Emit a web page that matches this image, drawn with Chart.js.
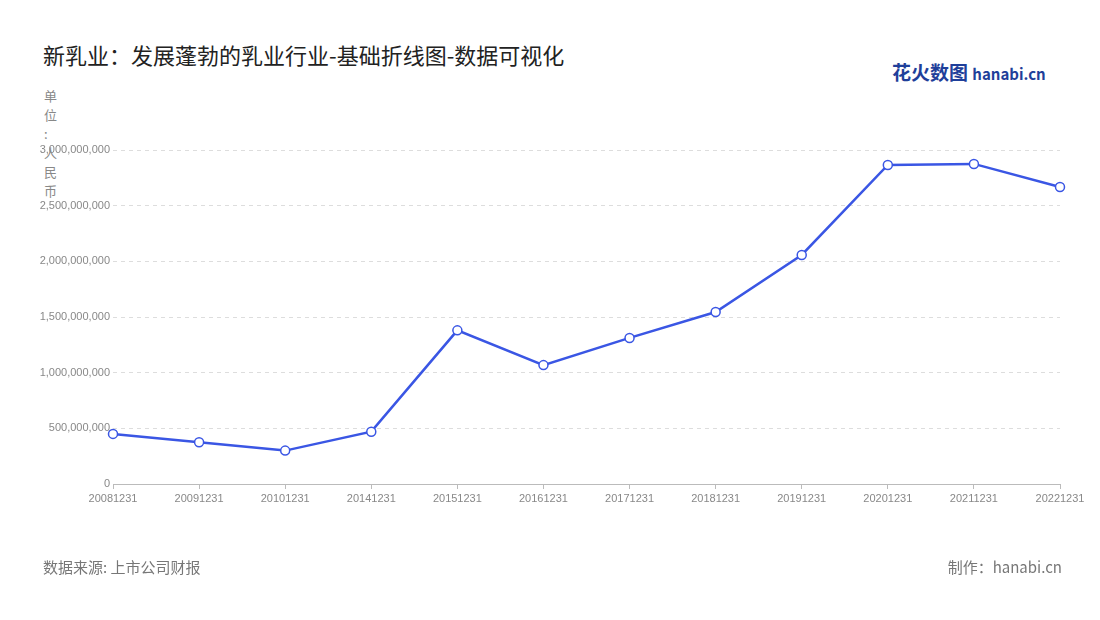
<!DOCTYPE html>
<html><head><meta charset="utf-8">
<script src="https://cdn.jsdelivr.net/npm/chart.js@4"></script>
<style>
body{margin:0;width:1100px;height:620px;position:relative;font-family:"Noto Sans CJK SC","Noto Sans",sans-serif;background:#fff;overflow:hidden}
#c{position:absolute;left:0;top:0}
.t{position:absolute;left:43px;top:38px;font-size:22px;color:#222}
.u{position:absolute;left:44px;top:86px;font-size:13px;line-height:19px;color:#888}
.logo{position:absolute;left:892px;top:58px;font-size:19px;font-weight:bold;color:#1f3f9a}
.logo span{font-size:15px;color:#1f3f9a}
.src{position:absolute;left:43px;top:556px;font-size:15px;color:#777}
.by{position:absolute;right:38px;top:556px;font-size:15px;color:#777}
</style></head><body>
<div class="t">新乳业：发展蓬勃的乳业行业-基础折线图-数据可视化</div>
<div class="u">单<br>位<br>:<br>人<br>民<br>币</div>
<div class="logo">花火数图 <span>hanabi.cn</span></div>
<canvas id="c" width="1100" height="620"></canvas>
<div class="src">数据来源: 上市公司财报</div>
<div class="by">制作：hanabi.cn</div>
<script>
const years = ["20081231","20091231","20101231","20141231","20151231","20161231","20171231","20181231","20191231","20201231","20211231","20221231"];
const revenue = [450000000,375000000,300000000,470000000,1380000000,1068000000,1312000000,1545000000,2057000000,2866000000,2875000000,2668000000];

new Chart(document.getElementById('c'), {
    type: 'line',
    data: {
        labels: years,
        datasets: [{
            data: revenue,
            borderColor: '#3a56e4',
            borderWidth: 2.5,
            pointBackgroundColor: '#fff',
            pointBorderColor: '#3a56e4',
            pointBorderWidth: 1.5,
            pointRadius: 4.5,
            tension: 0
        }]
    },
    options: {
        responsive: false,
        animation: false,
        layout: { padding: { top: 150, bottom: 106, right: 40 } },
        plugins: { legend: { display: false }, tooltip: { enabled: false } },
        scales: {
            x: {
                offset: false,
                afterFit: s => { s.height = 30; },
                grid: { display: true, drawOnChartArea: false, tickLength: 5, color: '#bbb' },
                border: { color: '#bbb' },
                ticks: { color: '#888', font: { size: 11 }, maxRotation: 0, autoSkip: false }
            },
            y: {
                min: 0, max: 3000000000,
                afterFit: s => { s.width = 113; },
                ticks: { stepSize: 500000000, color: '#888', font: { size: 11 },
                    callback: v => v.toLocaleString('en-US') },
                grid: { color: '#ddd', drawTicks: false },
                border: { display: false, dash: [4, 4] }
            }
        }
    }
});
</script>
</body></html>
